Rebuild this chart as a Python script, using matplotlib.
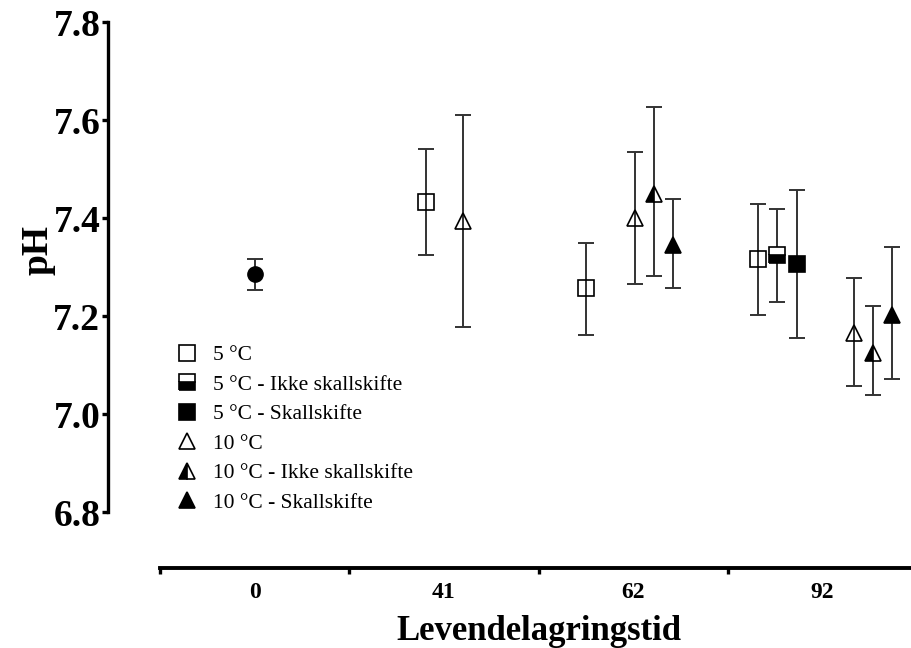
import numpy as np
import matplotlib
matplotlib.use("Agg")
import matplotlib.pyplot as plt

plt.rcParams['font.family'] = ['Liberation Serif', 'DejaVu Serif']

# storage days (x categories)
days = ['0', '41', '62', '92']

# day 0 reference
d0_mean = [7.286]
d0_lo = [7.253]
d0_hi = [7.316]

# 5 °C
t5_days = ['41', '62', '92']
t5_mean = [7.433, 7.257, 7.316]
t5_lo = [7.324, 7.161, 7.202]
t5_hi = [7.541, 7.349, 7.429]

# 5 °C - Ikke skallskifte
t5i_days = ['92']
t5i_mean = [7.324]
t5i_lo = [7.229]
t5i_hi = [7.418]

# 5 °C - Skallskifte
t5s_days = ['92']
t5s_mean = [7.307]
t5s_lo = [7.155]
t5s_hi = [7.457]

# 10 °C
t10_days = ['41', '62', '92']
t10_mean = [7.394, 7.400, 7.165]
t10_lo = [7.178, 7.265, 7.057]
t10_hi = [7.610, 7.535, 7.278]

# 10 °C - Ikke skallskifte
t10i_days = ['62', '92']
t10i_mean = [7.449, 7.125]
t10i_lo = [7.282, 7.039]
t10i_hi = [7.626, 7.220]

# 10 °C - Skallskifte
t10s_days = ['62', '92']
t10s_mean = [7.345, 7.202]
t10s_lo = [7.257, 7.071]
t10s_hi = [7.439, 7.341]

# horizontal dodge of each series within a day group (as in the Prism layout)
dodge = {
    't5': {'41': -0.095, '62': -0.249, '92': -0.339},
    't5i': {'92': -0.238},
    't5s': {'92': -0.132},
    't10': {'41': 0.10, '62': 0.011, '92': 0.169},
    't10i': {'62': 0.111, '92': 0.27},
    't10s': {'62': 0.212, '92': 0.37},
}

W, H = 911, 648
dpi = 100
fig = plt.figure(figsize=(W / dpi, H / dpi), dpi=dpi)
ax = fig.add_axes([160 / W, (H - 512) / H, 757 / W, 490 / H])

ecol = '#333333'
ms = 11


def draw(key, dlist, mean, lo, hi, marker, fill, label):
    xs = [days.index(d) + dodge[key][d] for d in dlist]
    mean = np.array(mean)
    yerr = [mean - np.array(lo), np.array(hi) - mean]
    ax.errorbar(xs, mean, yerr=yerr, fmt='none', ecolor=ecol, elinewidth=1.4,
                capsize=5.8, capthick=1.4, zorder=2)
    ax.plot(xs, mean, linestyle='none', marker=marker, markersize=ms,
            markeredgecolor='black', markeredgewidth=1.2, fillstyle=fill,
            markerfacecolor='black' if fill != 'none' else 'white',
            markerfacecoloralt='white', zorder=3, label=label)


# day 0 filled circle
ax.errorbar([0], d0_mean, yerr=[np.array(d0_mean) - np.array(d0_lo), np.array(d0_hi) - np.array(d0_mean)],
            fmt='none', ecolor=ecol, elinewidth=1.4, capsize=5.8, capthick=1.4, zorder=2)
ax.plot([0], d0_mean, 'o', color='black', markersize=ms, zorder=3)

draw('t5', t5_days, t5_mean, t5_lo, t5_hi, 's', 'none', '5 °C')
draw('t5i', t5i_days, t5i_mean, t5i_lo, t5i_hi, 's', 'bottom', '5 °C - Ikke skallskifte')
draw('t5s', t5s_days, t5s_mean, t5s_lo, t5s_hi, 's', 'full', '5 °C - Skallskifte')
draw('t10', t10_days, t10_mean, t10_lo, t10_hi, '^', 'none', '10 °C')
draw('t10i', t10i_days, t10i_mean, t10i_lo, t10i_hi, '^', 'left', '10 °C - Ikke skallskifte')
draw('t10s', t10s_days, t10s_mean, t10s_lo, t10s_hi, '^', 'full', '10 °C - Skallskifte')

ax.set_xlim(-0.5, len(days) - 0.5)
ax.set_ylim(6.8, 7.8)

for s in ['top', 'right']:
    ax.spines[s].set_visible(False)
ax.spines['left'].set_position(('outward', 52 * 72 / dpi))
ax.spines['bottom'].set_position(('outward', 56 * 72 / dpi))
ax.spines['left'].set_linewidth(2.4)
ax.spines['bottom'].set_linewidth(2.8)

ax.set_yticks([6.8, 7.0, 7.2, 7.4, 7.6, 7.8])
ax.set_yticklabels(['6.8', '7.0', '7.2', '7.4', '7.6', '7.8'], fontsize=27, fontweight='bold')
ax.tick_params(axis='y', direction='out', length=4.5, width=2.4, pad=1)

ax.set_xticks(np.arange(len(days) + 1) - 0.5)
ax.set_xticklabels([])
ax.tick_params(axis='x', which='major', direction='out', length=4.5, width=2.4)
ax.set_xticks(np.arange(len(days)), minor=True)
ax.set_xticklabels(days, minor=True, fontsize=17, fontweight='bold')
ax.tick_params(axis='x', which='minor', length=0, pad=10)

ax.set_xlabel('Levendelagringstid', fontsize=25, fontweight='bold', labelpad=9)
ax.set_ylabel('pH', fontsize=27, fontweight='bold')
ax.yaxis.set_label_coords(-(160 - 56) / 757, (512 - 250) / 490)

leg = ax.legend(loc='upper left', bbox_to_anchor=(176 / W, (H - 345) / H),
                bbox_transform=fig.transFigure, frameon=False, fontsize=15.5,
                handlelength=1.0, handletextpad=0.7, labelspacing=0.44,
                borderpad=0, borderaxespad=0, markerscale=1.0)

fig.savefig('out.png', dpi=dpi)
